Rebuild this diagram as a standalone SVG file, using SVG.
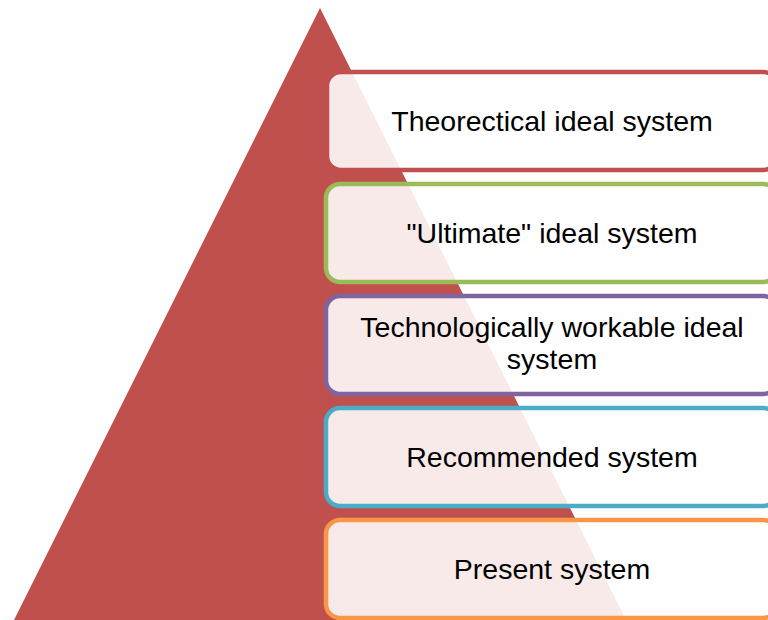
<svg xmlns="http://www.w3.org/2000/svg" width="768" height="620" viewBox="0 0 768 620">
<style>
.box{fill:#FFFFFF;fill-opacity:0.88;stroke-width:4.5}
.t{font-family:"Liberation Sans",Arial,sans-serif;font-size:28.5px;fill:#000;text-anchor:middle}
</style>
<rect width="768" height="620" fill="#FFFFFF"/>
<g id="pyramid"><polygon points="320,8 14,620 626,620" fill="#C0504D"/></g>
<g id="connectors"></g>
<g id="n1"><rect class="box" x="327" y="72" width="450" height="98" rx="14" stroke="#C0504D"/><text class="t" x="552" y="131">Theorectical ideal system</text></g>
<g id="n2"><rect class="box" x="326" y="184" width="451" height="98" rx="14" stroke="#9BBB59"/><text class="t" x="552" y="243">"Ultimate" ideal system</text></g>
<g id="n3"><rect class="box" x="326" y="296" width="451" height="98" rx="14" stroke="#8064A2"/><text class="t" x="552" y="337">Technologically workable ideal</text><text class="t" x="552" y="369">system</text></g>
<g id="n4"><rect class="box" x="326" y="408" width="451" height="98" rx="14" stroke="#4BACC6"/><text class="t" x="552" y="467">Recommended system</text></g>
<g id="n5"><rect class="box" x="326" y="520" width="451" height="98" rx="14" stroke="#F79646"/><text class="t" x="552" y="579">Present system</text></g>
</svg>
